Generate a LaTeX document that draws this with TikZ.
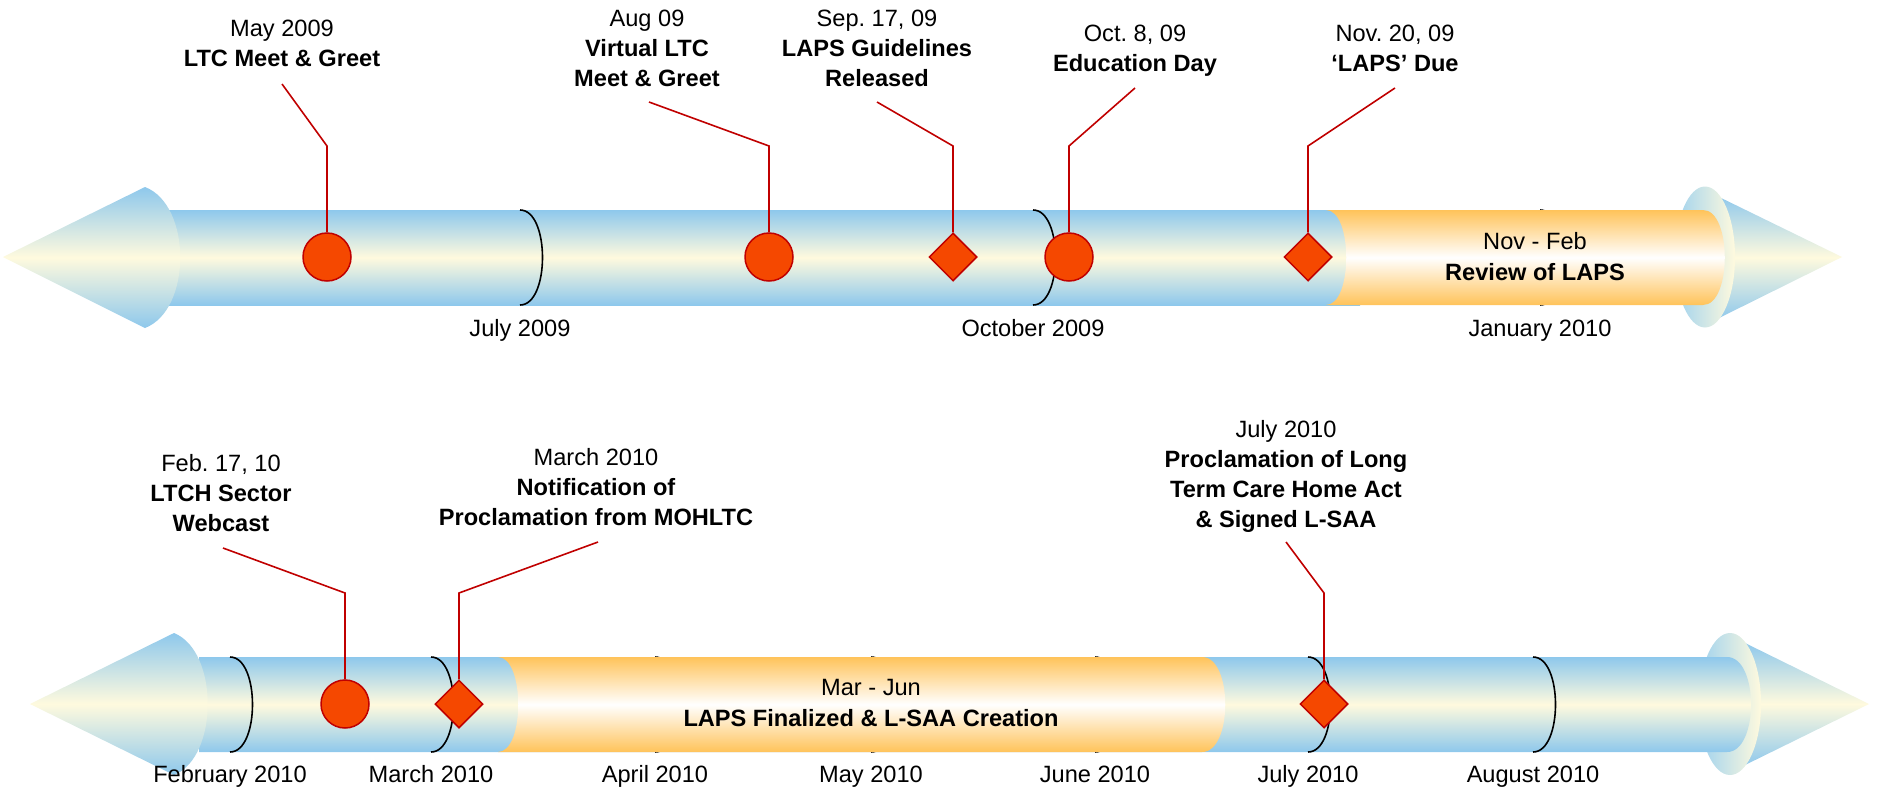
\documentclass[tikz,border=0pt]{standalone}
\usepackage{fontspec}
\setmainfont{Liberation Sans}
\usetikzlibrary{shapes.geometric}
\definecolor{tubeblue}{RGB}{142,200,236}
\definecolor{tubepale}{RGB}{255,250,222}
\definecolor{flangeblue}{RGB}{160,210,238}
\definecolor{phaseorange}{RGB}{255,195,90}
\definecolor{markfill}{RGB}{245,72,0}
\definecolor{markred}{RGB}{192,0,0}
\frenchspacing

\begin{document}
\begin{tikzpicture}[
  x=1pt, y=-1pt,
  evlabel/.style={anchor=north, align=center, inner sep=0pt,
    font=\fontsize{23.6}{30}\selectfont},
  monthlabel/.style={anchor=base, inner sep=0pt, font=\fontsize{23.6}{30}\selectfont},
  phaselabel/.style={anchor=north, align=center, inner sep=0pt,
    font=\fontsize{23.6}{31}\selectfont},
  dot/.style={circle, draw=markred, fill=markfill, line width=1.5pt,
    minimum size=48pt, inner sep=0pt},
  gem/.style={diamond, draw=markred, fill=markfill, line width=1.5pt,
    minimum width=48pt, minimum height=48pt, inner sep=0pt},
  leader/.style={draw=markred, line width=1.6pt},
  tick/.style={draw=black, line width=1.6pt},
  bluetube/.style={top color=tubeblue, bottom color=tubeblue, middle color=tubepale},
  orangetube/.style={top color=phaseorange, bottom color=phaseorange, middle color=white},
  flange/.style={left color=flangeblue, right color=tubepale},
]
\useasboundingbox (0,0) rectangle (1878,790);

\def\topY{257}
\def\botY{704}

% ---------- top row ----------
% right end: cone and flange
\shade[bluetube] (1715,195) -- (1842,\topY) -- (1715,320) -- cycle;
\shade[flange] (1705,\topY) ellipse [x radius=30, y radius=70.5];

% tube body and left cone
\shade[bluetube] (160,210) rectangle (1360,305);
\shade[bluetube] (3,\topY) -- (145,187) .. controls (192,205) and (192,310) .. (145,328) -- cycle;

% month marks
\foreach \mx/\mname in {520/July 2009, 1033/October 2009, 1540/January 2010} {
  \draw[tick] (\mx,210) .. controls (\mx+30,210) and (\mx+30,305) .. (\mx,305);
  \node[monthlabel] (mon\mx) at (\mx,336.5) {\mname};
}

% Nov - Feb phase
\shade[orangetube] (1326,210) -- (1703,210) .. controls (1732,210) and (1732,305) .. (1703,305)
  -- (1326,305) .. controls (1353,305) and (1353,210) .. (1326,210) -- cycle;
\node[phaselabel] (phReview) at (1535,232.5) {Nov - Feb\\\textbf{Review of LAPS}};

% events
\node[dot] (mkMay)   at (327,\topY)  {};
\node[dot] (mkVirt)  at (769,\topY)  {};
\node[gem] (mkGuide) at (953,\topY)  {};
\node[dot] (mkEdu)   at (1069,\topY) {};
\node[gem] (mkDue)   at (1308,\topY) {};

\node[evlabel] (evMay)   at (282,19.5)  {May 2009\\\textbf{LTC Meet \& Greet}};
\node[evlabel] (evVirt)  at (647,9.5)   {Aug 09\\\textbf{Virtual LTC}\\\textbf{Meet \& Greet}};
\node[evlabel] (evGuide) at (877,9.5)   {Sep. 17, 09\\\textbf{LAPS Guidelines}\\\textbf{Released}};
\node[evlabel] (evEdu)   at (1135,24.5) {Oct. 8, 09\\\textbf{Education Day}};
\node[evlabel] (evDue)   at (1395,24.5) {Nov. 20, 09\\\textbf{‘LAPS’ Due}};

\coordinate (ldMay)   at (282,84);
\coordinate (ldVirt)  at (649,102);
\coordinate (ldGuide) at (877,102);
\coordinate (ldEdu)   at (1135,88);
\coordinate (ldDue)   at (1395,88);

\draw[leader] (ldMay)   -- (mkMay |- 0,146)   -- (mkMay.north);
\draw[leader] (ldVirt)  -- (mkVirt |- 0,146)  -- (mkVirt.north);
\draw[leader] (ldGuide) -- (mkGuide |- 0,146) -- (mkGuide.north);
\draw[leader] (ldEdu)   -- (mkEdu |- 0,146)   -- (mkEdu.north);
\draw[leader] (ldDue)   -- (mkDue |- 0,146)   -- (mkDue.north);

% ---------- bottom row ----------
% right end: cone and flange
\shade[bluetube] (1743,642) -- (1869,\botY) -- (1743,766) -- cycle;
\shade[flange] (1730,\botY) ellipse [x radius=31, y radius=71];

% tube body and left cone
\shade[bluetube] (199,657) -- (1727,657) .. controls (1759,657) and (1759,752) .. (1727,752)
  -- (199,752) -- cycle;
\shade[bluetube] (30,\botY) -- (174,633) .. controls (219,651) and (219,757) .. (174,775) -- cycle;

% month marks
\foreach \mx/\mname in {230/February 2010, 431/March 2010, 655/April 2010, 871/May 2010,
                        1095/June 2010, 1308/July 2010, 1533/August 2010} {
  \draw[tick] (\mx,657) .. controls (\mx+30,657) and (\mx+30,752) .. (\mx,752);
  \node[monthlabel] (mon\mx) at (\mx,782.5) {\mname};
}

% Mar - Jun phase
\shade[orangetube] (498,657) -- (1202,657) .. controls (1233,657) and (1233,752) .. (1202,752)
  -- (498,752) .. controls (525,752) and (525,657) .. (498,657) -- cycle;
\node[phaselabel] (phFinal) at (871,679.5) {Mar - Jun\\\textbf{LAPS Finalized \& L-SAA Creation}};

% events
\node[dot] (mkWeb)   at (345,\botY)  {};
\node[gem] (mkNotif) at (459,\botY)  {};
\node[gem] (mkProc)  at (1324,\botY) {};

\node[evlabel] (evWeb)   at (221,454.5)  {Feb. 17, 10\\\textbf{LTCH Sector}\\\textbf{Webcast}};
\node[evlabel] (evNotif) at (596,448.5)  {March 2010\\\textbf{Notification of}\\\textbf{Proclamation from MOHLTC}};
\node[evlabel] (evProc)  at (1286,420.5) {July 2010\\\textbf{Proclamation of Long}\\\textbf{Term Care Home Act}\\\textbf{\& Signed L-SAA}};

\coordinate (ldWeb)   at (223,548);
\coordinate (ldNotif) at (598,542);
\coordinate (ldProc)  at (1286,542);

\draw[leader] (ldWeb)   -- (mkWeb |- 0,593)   -- (mkWeb.north);
\draw[leader] (ldNotif) -- (mkNotif |- 0,593) -- (mkNotif.north);
\draw[leader] (ldProc)  -- (mkProc |- 0,593)  -- (mkProc.north);

\end{tikzpicture}
\end{document}
